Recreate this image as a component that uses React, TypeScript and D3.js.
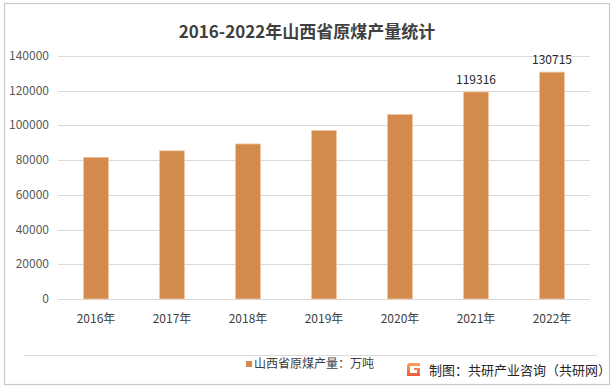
import { useEffect, useRef } from "react";
import * as d3 from "d3";

const years = ["2016年", "2017年", "2018年", "2019年", "2020年", "2021年", "2022年"];
const output = [81642, 85399, 89340, 97109, 106308, 119316, 130715];
const labeled = ["2021年", "2022年"];
const yTicks = [0, 20000, 40000, 60000, 80000, 100000, 120000, 140000];

const W = 615;
const H = 389;
const FONT = "'Noto Sans CJK SC', 'Noto Sans', sans-serif";

const App = () => {
  const ref = useRef<SVGSVGElement>(null);

  useEffect(() => {
    const svg = d3.select(ref.current);
    svg.selectAll("*").remove();

    const margin = { top: 56, right: 25, bottom: 90, left: 58 };

    const x = d3
      .scaleBand()
      .domain(years)
      .range([margin.left, W - margin.right])
      .paddingInner(0.67)
      .paddingOuter(0.335);

    const y = d3
      .scaleLinear()
      .domain([0, 140000])
      .range([H - margin.bottom, margin.top]);

    // outer frame
    svg
      .append("rect")
      .attr("x", 4.5)
      .attr("y", 3.5)
      .attr("width", 605)
      .attr("height", 381)
      .attr("fill", "#fff")
      .attr("stroke", "#c8c8c8")
      .attr("stroke-width", 1.2);

    svg
      .append("text")
      .attr("x", 307)
      .attr("y", 38)
      .attr("text-anchor", "middle")
      .style("font-family", FONT)
      .style("font-size", "17px")
      .style("font-weight", "bold")
      .attr("fill", "#404040")
      .text("2016-2022年山西省原煤产量统计");

    // gridlines
    svg
      .append("g")
      .selectAll("line")
      .data(yTicks)
      .enter()
      .append("line")
      .attr("x1", margin.left)
      .attr("x2", W - margin.right)
      .attr("y1", (d) => Math.round(y(d)) + 0.5)
      .attr("y2", (d) => Math.round(y(d)) + 0.5)
      .attr("stroke", "#d9d9d9");

    svg
      .append("g")
      .selectAll("text")
      .data(yTicks)
      .enter()
      .append("text")
      .attr("x", 49)
      .attr("y", (d) => y(d) + 4)
      .attr("text-anchor", "end")
      .style("font-family", FONT)
      .style("font-size", "12px")
      .attr("fill", "#595959")
      .text((d) => d);

    svg
      .append("g")
      .selectAll("rect")
      .data(years)
      .enter()
      .append("rect")
      .attr("x", (d) => x(d)!)
      .attr("width", x.bandwidth())
      .attr("y", (d, i) => y(output[i]))
      .attr("height", (d, i) => y(0) - y(output[i]))
      .attr("fill", "#d38b4d")
      .attr("stroke", "#f2c9a2")
      .attr("stroke-width", 0.8);

    svg
      .append("g")
      .selectAll("text")
      .data(years)
      .enter()
      .append("text")
      .attr("x", (d) => x(d)! + x.bandwidth() / 2)
      .attr("y", 323)
      .attr("text-anchor", "middle")
      .style("font-family", FONT)
      .style("font-size", "12px")
      .attr("fill", "#404040")
      .text((d) => d);

    svg
      .append("g")
      .selectAll("text")
      .data(years.filter((d) => labeled.includes(d)))
      .enter()
      .append("text")
      .attr("x", (d) => x(d)! + x.bandwidth() / 2)
      .attr("y", (d) => y(output[years.indexOf(d)]) - 8)
      .attr("text-anchor", "middle")
      .style("font-family", FONT)
      .style("font-size", "12px")
      .attr("fill", "#262626")
      .text((d) => output[years.indexOf(d)]);

    // separator
    svg
      .append("line")
      .attr("x1", 24)
      .attr("x2", 597)
      .attr("y1", 355.5)
      .attr("y2", 355.5)
      .attr("stroke", "#d9d9d9");

    // legend
    svg
      .append("rect")
      .attr("x", 246)
      .attr("y", 361)
      .attr("width", 6)
      .attr("height", 6)
      .attr("fill", "#d38b4d");
    svg
      .append("text")
      .attr("x", 254)
      .attr("y", 368)
      .style("font-family", FONT)
      .style("font-size", "12px")
      .attr("fill", "#404040")
      .text("山西省原煤产量：万吨");

    // source logo
    const defs = svg.append("defs");
    const grad = defs
      .append("linearGradient")
      .attr("id", "logoGrad")
      .attr("x1", "0")
      .attr("y1", "0")
      .attr("x2", "0")
      .attr("y2", "1");
    grad.append("stop").attr("offset", "0").attr("stop-color", "#f7a35c");
    grad.append("stop").attr("offset", "1").attr("stop-color", "#f05a3a");

    const logo = svg.append("g").attr("transform", "translate(407,363)");
    logo
      .append("path")
      .attr("d", "M0,2 L2,0 L13,0 L13,3 L3,3 L3,10 L10,10 L10,7 L7,7 L7,5 L13,5 L13,13 L0,13 Z")
      .attr("fill", "url(#logoGrad)");

    svg
      .append("text")
      .attr("x", 429)
      .attr("y", 375)
      .style("font-family", FONT)
      .style("font-size", "13px")
      .attr("fill", "#262626")
      .text("制图：共研产业咨询（共研网）");
  }, []);

  return (
    <div style={{ position: "absolute", left: 0, top: 0 }}>
      <svg ref={ref} width={W} height={H} style={{ display: "block" }} />
    </div>
  );
};

export default App;
